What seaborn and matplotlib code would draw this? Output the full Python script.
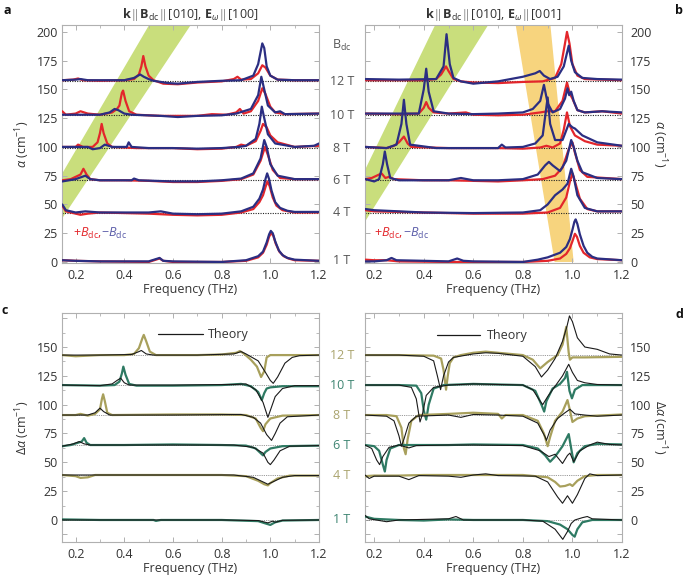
import matplotlib
matplotlib.use("Agg")
import matplotlib.pyplot as plt
import matplotlib.transforms as mtransforms
from matplotlib.ticker import MultipleLocator
import seaborn as sns

# ---------------- data ----------------
fields = ["12 T", "10 T", "8 T", "6 T", "4 T", "1 T"]
base_ab = [157, 127.5, 99, 71, 43]
base_cd = [143, 117, 91, 65, 39, 0]

band_a_green_x = [0.145, 0.145, 0.502, 0.673]
band_a_green_y = [38, 77, 206, 206]
band_b_green_x = [0.163, 0.163, 0.446, 0.660]
band_b_green_y = [35, 80, 206, 206]
band_b_yellow_x = [0.771, 0.911, 1.005, 0.928]
band_b_yellow_y = [206, 206, 0, 0]

# panel a
a12_red = [(0.145,158),(0.19,158.5),(0.21,159.5),(0.23,158),(0.30,157.5),(0.40,158),(0.44,159),(0.46,163),(0.47,170),(0.478,179),(0.487,170),(0.50,162),(0.52,158),(0.56,155),(0.62,154.5),(0.70,156),(0.80,157),(0.85,159),(0.865,161),(0.88,158.5),(0.92,159),(0.95,164),(0.967,171),(0.98,169),(1.0,162),(1.03,158.5),(1.1,158),(1.2,158)]
a12_blue = [(0.145,158),(0.20,158.5),(0.22,159),(0.25,158),(0.40,158),(0.44,160),(0.465,163),(0.48,161),(0.50,159),(0.52,157.5),(0.58,155.5),(0.62,155),(0.70,156.5),(0.80,157.5),(0.88,158),(0.93,162),(0.95,172),(0.967,190),(0.975,186),(0.985,170),(1.0,162),(1.03,158.5),(1.1,158),(1.2,158)]
a10_red = [(0.145,131),(0.16,128),(0.2,129),(0.22,131),(0.25,129),(0.30,128),(0.35,130),(0.37,133),(0.38,136),(0.39,147),(0.395,149),(0.405,140),(0.42,131),(0.45,128),(0.55,127),(0.6,127),(0.7,127),(0.76,128.5),(0.82,128),(0.86,130),(0.875,133),(0.89,129),(0.92,131),(0.95,140),(0.967,151),(0.98,146),(1.0,135),(1.02,130),(1.06,128.5),(1.2,129)]
a10_blue = [(0.145,128),(0.2,128),(0.3,128),(0.34,130),(0.36,133),(0.375,132),(0.40,129),(0.43,128),(0.55,127),(0.62,126),(0.7,127),(0.8,127.5),(0.86,129),(0.92,133),(0.95,145),(0.963,161),(0.975,150),(0.99,136),(1.02,130),(1.04,131),(1.06,128.5),(1.2,129)]
a8_red = [(0.145,100),(0.2,100),(0.21,102),(0.23,100),(0.27,100),(0.29,104),(0.30,112),(0.307,120),(0.315,112),(0.33,103),(0.35,100),(0.45,99),(0.55,99),(0.6,99),(0.7,98),(0.8,98.5),(0.86,100),(0.88,102),(0.9,101),(0.94,105),(0.96,114),(0.97,120),(0.985,117),(1.0,110),(1.03,104),(1.1,100),(1.2,101)]
a8_blue = [(0.145,100),(0.25,100),(0.27,98),(0.3,99),(0.32,102),(0.35,100),(0.41,100),(0.418,104),(0.43,100),(0.5,99),(0.6,99),(0.7,98.5),(0.8,99),(0.87,100),(0.9,101),(0.94,107),(0.955,120),(0.965,135),(0.975,125),(0.99,111),(1.02,103),(1.1,100),(1.18,101),(1.2,103)]
a6_red = [(0.145,71),(0.18,72),(0.2,74),(0.22,76),(0.232,81),(0.245,76),(0.26,72),(0.3,71),(0.4,71),(0.5,70.5),(0.6,69.5),(0.7,69.5),(0.8,70.5),(0.88,72),(0.93,76),(0.96,88),(0.978,100),(0.99,93),(1.01,80),(1.04,73),(1.1,72),(1.2,72)]
a6_blue = [(0.145,70),(0.2,72),(0.24,75),(0.26,72),(0.3,71),(0.43,71),(0.44,72.5),(0.46,71),(0.6,70),(0.7,70),(0.8,71),(0.88,72.5),(0.93,77),(0.96,90),(0.975,106),(0.985,100),(1.0,85),(1.03,75),(1.1,72),(1.2,72)]
a4_red = [(0.145,49),(0.16,44),(0.2,42),(0.22,41),(0.25,42),(0.3,43),(0.5,42),(0.6,41),(0.7,40.5),(0.8,41),(0.88,43),(0.93,46),(0.955,52),(0.97,58),(0.98,65),(0.988,70),(0.997,66),(1.01,56),(1.025,49),(1.05,45),(1.1,43),(1.2,43)]
a4_blue = [(0.145,50),(0.16,45),(0.2,43),(0.24,44),(0.3,43),(0.5,43),(0.55,44),(0.6,42),(0.7,41.5),(0.8,42),(0.88,44),(0.93,48),(0.955,55),(0.97,63),(0.98,72),(0.987,77),(0.995,72),(1.005,62),(1.02,52),(1.04,47),(1.07,44.5),(1.1,43.5),(1.2,43.5)]
a1_red = [(0.145,1.5),(0.2,1),(0.3,0.5),(0.5,0),(0.53,2),(0.545,3),(0.56,1),(0.6,0),(0.8,0),(0.9,1),(0.95,4),(0.97,8),(0.985,15),(0.995,22),(1.003,25),(1.012,23),(1.022,16),(1.037,9),(1.055,5),(1.075,3),(1.1,1.5),(1.2,1)]
a1_blue = [(0.145,1.5),(0.2,1),(0.3,0.5),(0.5,0.5),(0.53,2.5),(0.545,3.5),(0.56,1),(0.6,0.5),(0.8,0),(0.9,1.5),(0.95,5),(0.97,9),(0.985,17),(0.995,24),(1.002,27),(1.01,25),(1.02,18),(1.035,10),(1.05,6),(1.07,3.5),(1.1,2),(1.2,1)]

# panel b
b12_red = [(0.165,158),(0.3,158),(0.4,158),(0.45,159),(0.47,163),(0.49,170),(0.50,166),(0.52,159),(0.55,157),(0.6,156),(0.7,155.5),(0.8,156.5),(0.88,157),(0.93,160),(0.955,172),(0.97,190),(0.978,200),(0.988,190),(1.0,172),(1.02,162),(1.05,159),(1.2,158)]
b12_blue = [(0.165,159),(0.3,158.5),(0.45,159),(0.48,170),(0.492,198),(0.505,172),(0.52,160),(0.55,157),(0.6,155),(0.7,157),(0.8,161),(0.85,164),(0.868,166),(0.885,162),(0.91,159),(0.94,161),(0.965,170),(0.985,188),(0.995,175),(1.01,165),(1.04,160),(1.1,159),(1.2,158.5)]
b10_red = [(0.165,129),(0.3,128.5),(0.38,129),(0.40,134),(0.41,139),(0.42,134),(0.44,130),(0.5,129),(0.57,130),(0.6,128),(0.7,127.5),(0.8,128),(0.87,130),(0.9,131),(0.93,131),(0.96,140),(0.978,156),(0.99,146),(1.0,142),(1.02,132),(1.05,130),(1.12,131),(1.2,129)]
b10_blue = [(0.165,129),(0.3,129),(0.38,129),(0.40,150),(0.41,168),(0.42,148),(0.44,131),(0.5,129),(0.6,128.5),(0.7,129),(0.8,130),(0.84,133),(0.87,140),(0.885,154),(0.9,138),(0.92,130),(0.95,133),(0.97,142),(0.98,151),(0.987,145),(0.995,148),(1.005,140),(1.02,132),(1.05,130),(1.12,131),(1.2,130)]
b8_red = [(0.165,100),(0.25,99),(0.28,101),(0.30,104),(0.32,109),(0.335,103),(0.35,100),(0.5,99),(0.6,99),(0.7,99),(0.8,98.5),(0.87,99.5),(0.895,101),(0.92,99.5),(0.95,103),(0.965,115),(0.978,130),(0.99,118),(1.01,110),(1.05,105),(1.1,102),(1.2,101)]
b8_blue = [(0.165,100),(0.25,99),(0.29,102),(0.31,120),(0.32,141),(0.33,120),(0.345,102),(0.38,101),(0.45,99),(0.6,99),(0.7,99),(0.715,102),(0.73,99.5),(0.8,100),(0.85,103),(0.88,110),(0.9,143),(0.91,120),(0.93,106),(0.96,106),(0.985,120),(1.0,117),(1.01,116),(1.04,110),(1.1,104),(1.2,101)]
b6_red = [(0.165,72),(0.19,73),(0.22,76),(0.23,77),(0.245,73),(0.26,74),(0.28,72),(0.4,71),(0.5,71),(0.6,70.5),(0.7,70),(0.8,71),(0.88,72),(0.93,75),(0.96,82),(0.985,98),(1.0,104),(1.01,95),(1.03,80),(1.06,74),(1.2,72)]
b6_blue = [(0.165,72),(0.2,70),(0.22,72),(0.235,85),(0.243,96),(0.252,85),(0.265,73),(0.3,71),(0.4,71),(0.5,71),(0.55,73),(0.6,71),(0.7,71),(0.8,72),(0.86,76),(0.89,84),(0.905,87),(0.92,84),(0.95,79),(0.975,88),(0.995,106),(1.005,100),(1.02,88),(1.04,78),(1.1,73),(1.2,72)]
b4_red = [(0.165,45),(0.2,44),(0.4,43),(0.6,42),(0.8,42),(0.9,43),(0.95,47),(0.975,56),(0.99,70),(1.0,77),(1.01,70),(1.03,55),(1.06,46),(1.1,44),(1.2,44)]
b4_blue = [(0.165,46),(0.2,45),(0.4,43),(0.6,42.5),(0.8,43),(0.87,45),(0.9,50),(0.93,58),(0.96,63),(0.98,68),(0.995,81),(1.005,74),(1.02,58),(1.05,47),(1.1,44),(1.2,44)]
b1_red = [(0.165,2),(0.2,1.5),(0.25,1.5),(0.3,0.5),(0.5,0),(0.8,0),(0.9,1),(0.95,3),(0.975,7),(0.99,12),(1.0,18),(1.01,24.5),(1.018,22),(1.03,14),(1.045,8),(1.07,4),(1.1,2.5),(1.2,1.5)]
b1_blue = [(0.165,0.5),(0.2,0.5),(0.25,1.5),(0.27,3.5),(0.29,1.5),(0.4,1),(0.5,0.5),(0.535,3),(0.56,1),(0.6,0.5),(0.8,0),(0.86,2),(0.9,4),(0.95,8),(0.975,13),(0.99,20),(1.0,28),(1.008,35),(1.013,37),(1.02,33),(1.03,24),(1.045,14),(1.06,8),(1.08,4.5),(1.1,3),(1.2,1.5)]

# panel c
c12_exp = [(0.145,143),(0.2,142),(0.3,143),(0.4,143),(0.44,144),(0.46,149),(0.475,158),(0.48,160.5),(0.49,155),(0.505,146),(0.53,143),(0.6,143),(0.7,143),(0.8,143.5),(0.86,145),(0.875,146.5),(0.89,144.5),(0.92,139),(0.945,133),(0.962,124),(0.975,129),(0.985,141),(1.0,143),(1.1,143),(1.2,143)]
c12_th = [(0.145,143),(0.3,143),(0.43,143.5),(0.46,146),(0.47,147),(0.49,144),(0.52,143),(0.7,143),(0.85,144),(0.88,146),(0.9,144),(0.95,138),(0.98,128),(1.0,121),(1.012,118.5),(1.03,124),(1.06,136),(1.09,141),(1.12,142.5),(1.2,143)]
c10_exp = [(0.145,117),(0.3,116.5),(0.36,117),(0.38,120),(0.39,127),(0.396,133),(0.405,126),(0.42,118),(0.45,116.5),(0.6,116.5),(0.8,117),(0.88,118),(0.92,116),(0.95,111),(0.965,104),(0.975,110),(0.985,114),(1.0,115),(1.05,116),(1.2,116)]
c10_th = [(0.145,117),(0.3,116.5),(0.35,118),(0.37,121),(0.385,123),(0.40,119),(0.42,117),(0.6,117),(0.85,117.5),(0.9,118),(0.94,113),(0.97,102),(0.99,89),(1.0,95),(1.02,107),(1.05,114),(1.1,116.5),(1.2,116.5)]
c8_exp = [(0.145,91),(0.2,91),(0.22,92),(0.25,90.5),(0.28,92),(0.3,96),(0.308,105),(0.313,109),(0.32,103),(0.33,93),(0.35,91),(0.6,91.5),(0.8,91.5),(0.9,91),(0.94,88),(0.96,80),(0.97,77),(0.98,83),(1.0,88),(1.05,90.5),(1.2,91)]
c8_th = [(0.145,91),(0.25,91),(0.28,93),(0.3,97),(0.315,94),(0.34,91),(0.6,91),(0.88,91.5),(0.93,89),(0.96,84),(0.985,74),(1.005,69),(1.02,75),(1.04,84),(1.07,89.5),(1.2,91)]
c6_exp = [(0.145,64),(0.18,65),(0.21,67),(0.225,68),(0.235,71),(0.245,67),(0.26,65),(0.4,65),(0.6,65.5),(0.8,65),(0.9,64.5),(0.94,62),(0.96,58),(0.97,56),(0.98,59),(1.0,62),(1.05,64),(1.2,64.5)]
c6_th = [(0.145,64),(0.19,66),(0.215,68),(0.235,66),(0.26,65),(0.6,65),(0.85,65),(0.93,63),(0.97,58),(0.99,50),(1.0,48),(1.015,52),(1.04,60),(1.08,64),(1.2,64.5)]
c4_exp = [(0.145,39),(0.2,38),(0.22,36.5),(0.25,37),(0.28,39),(0.6,39),(0.8,39),(0.9,38),(0.95,34),(0.975,31),(0.99,30),(1.0,32),(1.03,36),(1.08,38.5),(1.2,38.5)]
c4_th = [(0.145,39),(0.3,39),(0.6,39),(0.85,39),(0.93,37),(0.97,33),(0.99,31),(1.01,33),(1.05,37),(1.1,38.5),(1.2,38.5)]
c1_exp = [(0.145,0.5),(0.3,0),(0.52,0),(0.53,-0.8),(0.55,0),(0.8,0),(0.95,-1),(0.98,-3),(1.0,-4.3),(1.02,-2),(1.05,-0.5),(1.2,0)]
c1_th = [(0.145,0),(0.8,0),(0.95,-0.5),(0.99,-2.5),(1.01,-1),(1.02,-2),(1.05,-0.3),(1.2,0)]

# panel d
d12_exp = [(0.163,143),(0.3,143),(0.44,142.5),(0.47,140),(0.48,130),(0.49,113),(0.497,125),(0.505,136),(0.52,141),(0.55,143),(0.6,145),(0.65,146),(0.7,145),(0.8,143),(0.84,139),(0.87,131.5),(0.9,137),(0.94,143),(0.96,152),(0.975,167.5),(0.985,145),(0.99,139),(1.0,141),(1.05,141),(1.2,141.5)]
d12_th = [(0.163,143),(0.3,143),(0.4,142),(0.44,138),(0.455,125),(0.468,113),(0.48,125),(0.5,137),(0.52,141),(0.6,144),(0.65,145),(0.7,144.5),(0.8,142),(0.85,133),(0.875,124),(0.9,130),(0.93,140),(0.96,155),(0.978,168),(0.988,177),(1.0,172),(1.02,158),(1.05,150),(1.1,148),(1.15,144),(1.2,143)]
d10_exp = [(0.163,117),(0.3,117),(0.37,116.5),(0.39,110),(0.40,95),(0.41,87),(0.42,100),(0.44,114),(0.48,117),(0.6,118),(0.8,117),(0.85,112),(0.875,100),(0.886,94),(0.895,103),(0.92,114),(0.95,118),(0.97,123),(0.978,128.5),(0.988,112),(0.998,105.5),(1.01,113),(1.04,117),(1.2,117)]
d10_th = [(0.163,117),(0.3,117),(0.35,115),(0.37,105),(0.385,85),(0.395,92),(0.41,108),(0.44,115),(0.5,117),(0.6,118),(0.8,117),(0.84,113),(0.87,103),(0.88,100),(0.9,107),(0.93,116),(0.96,125),(0.985,135),(1.0,128),(1.02,121),(1.05,119),(1.1,117.5),(1.2,117)]
d8_exp = [(0.163,91),(0.25,91),(0.29,90),(0.31,80),(0.32,62),(0.327,57),(0.335,70),(0.35,86),(0.38,91),(0.5,92),(0.6,93),(0.7,92),(0.715,88),(0.73,91),(0.8,91),(0.86,86),(0.885,75),(0.9,64),(0.91,72),(0.93,86),(0.96,94),(0.98,104),(0.99,95),(1.0,85),(1.02,88),(1.05,90),(1.2,91.5)]
d8_th = [(0.163,91),(0.25,90),(0.28,86),(0.3,73),(0.31,64),(0.32,70),(0.34,84),(0.37,90),(0.5,91),(0.55,89),(0.6,91.5),(0.7,91),(0.8,90),(0.86,84),(0.89,72),(0.895,69),(0.91,78),(0.94,88),(0.97,93),(0.99,96),(1.01,92),(1.05,91),(1.1,90),(1.2,91)]
d6_exp = [(0.163,65),(0.2,64),(0.22,60),(0.235,48),(0.243,42),(0.25,52),(0.265,62),(0.3,65),(0.4,65),(0.5,65),(0.6,65.5),(0.8,65),(0.86,62),(0.89,56),(0.91,50.5),(0.93,55),(0.96,64),(0.985,74.5),(0.995,62),(1.005,50),(1.02,58),(1.05,64),(1.1,66),(1.2,65.5)]
d6_th = [(0.163,65),(0.19,62),(0.21,52),(0.222,48),(0.235,55),(0.26,63),(0.3,65),(0.34,62.5),(0.37,64.5),(0.5,65),(0.6,65),(0.8,64.5),(0.87,60),(0.905,55),(0.93,57),(0.96,49),(0.98,56),(0.99,58),(1.005,50.5),(1.03,60),(1.07,65),(1.1,67.5),(1.15,65.5),(1.2,65)]
d4_exp = [(0.163,38),(0.2,38.5),(0.3,38.5),(0.4,39),(0.6,39),(0.8,39),(0.9,37),(0.93,33),(0.95,29),(0.97,29.5),(0.99,31),(1.0,29.5),(1.02,34),(1.05,38),(1.1,39),(1.2,39)]
d4_th = [(0.163,39),(0.18,36),(0.2,38),(0.3,38),(0.34,35),(0.38,38.5),(0.5,38),(0.55,37),(0.6,39),(0.65,40),(0.7,38.5),(0.85,38),(0.9,33),(0.94,20),(0.96,14.5),(0.98,21),(1.0,14.5),(1.02,22),(1.05,36),(1.07,40),(1.1,38.5),(1.2,39)]
d1_exp = [(0.163,3),(0.2,1),(0.3,0),(0.4,-0.5),(0.5,0.5),(0.6,0),(0.8,0),(0.9,-1),(0.95,-4),(0.98,-8),(1.0,-13),(1.009,-14.5),(1.02,-8),(1.04,-2),(1.08,0),(1.2,0)]
d1_th = [(0.163,4),(0.18,1),(0.25,-1.5),(0.3,0),(0.5,1),(0.53,3),(0.56,0),(0.8,0),(0.88,-1),(0.93,-8),(0.961,-16.8),(0.98,-10),(0.995,-3),(1.01,0),(1.04,2),(1.06,3),(1.08,1),(1.2,0)]

# ---------------- styling ----------------
sns.set_theme(style="ticks")
plt.rcParams["font.family"] = ["Open Sans", "DejaVu Sans"]
plt.rcParams["mathtext.fontset"] = "custom"
plt.rcParams["mathtext.rm"] = "Open Sans"
plt.rcParams["mathtext.it"] = "Open Sans:italic"
plt.rcParams["mathtext.bf"] = "Open Sans:bold"

RED = "#e3262b"
NAVY = "#2b2e82"
OLIVE = "#a8a05c"
TEAL = "#2e7a63"
OLIVE_T = "#aaa46e"
TEAL_T = "#3f8572"
GREEN = "#c9de7c"
YELLOW = "#f7d47e"
SPINE = "#b0b0b0"
TXT = "#333333"
FS = 9

W, H = 685, 577
fig = plt.figure(figsize=(W / 100, H / 100), dpi=100)


def px_axes(l, r, t, b):
    return fig.add_axes([l / W, 1 - b / H, (r - l) / W, (b - t) / H])


ax_a = px_axes(62, 319, 25, 263)
ax_b = px_axes(365, 622, 25, 263)
ax_c = px_axes(62, 319, 313, 542)
ax_d = px_axes(365, 622, 313, 542)


def draw(ax, pts, color, lw, z):
    xs = [p[0] for p in pts]
    ys = [p[1] for p in pts]
    sns.lineplot(x=xs, y=ys, ax=ax, color=color, lw=lw, sort=False,
                 estimator=None, legend=False, zorder=z)


def style(ax, xlo, ylo, yhi, right, major, minor):
    ax.set_xlim(xlo, 1.2)
    ax.set_ylim(ylo, yhi)
    for s in ax.spines.values():
        s.set_color(SPINE)
        s.set_linewidth(0.8)
    ax.xaxis.set_major_locator(MultipleLocator(0.2))
    ax.xaxis.set_minor_locator(MultipleLocator(0.1))
    ax.yaxis.set_major_locator(MultipleLocator(major))
    ax.yaxis.set_minor_locator(MultipleLocator(minor))
    ax.tick_params(which="both", direction="in", top=True, right=True,
                   left=True, bottom=True, color=SPINE, labelcolor=TXT,
                   labelsize=FS, pad=3)
    ax.tick_params(which="major", length=3.5, width=0.7)
    ax.tick_params(which="minor", length=2, width=0.6)
    if right:
        ax.tick_params(labelleft=False, labelright=True)
        ax.tick_params(axis="y", pad=6)
    ax.tick_params(axis="x", pad=4)
    ax.set_xticks([0.2, 0.4, 0.6, 0.8, 1.0, 1.2])
    ax.set_xticklabels(["0.2", "0.4", "0.6", "0.8", "1.0", "1.2"])
    ax.set_xlabel("Frequency (THz)", fontsize=FS, color=TXT, labelpad=1)


# bands
ax_a.fill(band_a_green_x, band_a_green_y, color=GREEN, lw=0, zorder=0)
ax_b.fill(band_b_green_x, band_b_green_y, color=GREEN, lw=0, zorder=0)
ax_b.fill(band_b_yellow_x, band_b_yellow_y, color=YELLOW, lw=0, zorder=0)

for ax in (ax_a, ax_b):
    for yb in base_ab:
        ax.axhline(yb, color="#222222", lw=0.8, ls=(0, (1, 1.2)), zorder=1)
for ax in (ax_c, ax_d):
    for yb in base_cd:
        ax.axhline(yb, color="#777777", lw=0.6, ls=(0, (1, 1.2)), zorder=1)

for r, bl in [(a12_red, a12_blue), (a10_red, a10_blue), (a8_red, a8_blue),
              (a6_red, a6_blue), (a4_red, a4_blue), (a1_red, a1_blue)]:
    draw(ax_a, r, RED, 1.6, 3)
    draw(ax_a, bl, NAVY, 1.6, 4)
for r, bl in [(b12_red, b12_blue), (b10_red, b10_blue), (b8_red, b8_blue),
              (b6_red, b6_blue), (b4_red, b4_blue), (b1_red, b1_blue)]:
    draw(ax_b, r, RED, 1.6, 3)
    draw(ax_b, bl, NAVY, 1.6, 4)

exp_cols = [OLIVE, TEAL, OLIVE, TEAL, OLIVE, TEAL]
for (e, t), col in zip([(c12_exp, c12_th), (c10_exp, c10_th), (c8_exp, c8_th),
                        (c6_exp, c6_th), (c4_exp, c4_th), (c1_exp, c1_th)], exp_cols):
    draw(ax_c, e, col, 1.6, 3)
    draw(ax_c, t, "#1a1a1a", 0.8, 4)
for (e, t), col in zip([(d12_exp, d12_th), (d10_exp, d10_th), (d8_exp, d8_th),
                        (d6_exp, d6_th), (d4_exp, d4_th), (d1_exp, d1_th)], exp_cols):
    draw(ax_d, e, col, 1.6, 3)
    draw(ax_d, t, "#1a1a1a", 0.8, 4)

style(ax_a, 0.144, -0.9, 206, False, 25, 25)
style(ax_b, 0.163, -0.9, 206, True, 25, 25)
style(ax_c, 0.144, -19.1, 179.5, False, 25, 12.5)
style(ax_d, 0.163, -19.1, 179.5, True, 25, 12.5)
for ax in (ax_c, ax_d):
    ax.set_yticks([-12.5, 0, 25, 50, 75, 100, 125, 150, 175])
    ax.set_yticklabels(["", "0", "25", "50", "75", "100", "125", "150", ""])

# titles
ax_a.set_title(r"$\mathbf{k}\,\|\,\mathbf{B}_{\mathrm{dc}}\,\|\,$[010], $\mathbf{E}_{\omega}\,\|\,$[100]",
               fontsize=FS, color=TXT, pad=5)
ax_b.set_title(r"$\mathbf{k}\,\|\,\mathbf{B}_{\mathrm{dc}}\,\|\,$[010], $\mathbf{E}_{\omega}\,\|\,$[001]",
               fontsize=FS, color=TXT, pad=5)

# y labels
ax_a.set_ylabel(r"$\alpha$ (cm$^{-1}$)", fontsize=FS, color=TXT, labelpad=3)
ax_b.yaxis.set_label_position("right")
ax_b.set_ylabel(r"$\alpha$ (cm$^{-1}$)", fontsize=FS, color=TXT, rotation=270, labelpad=12)
ax_c.set_ylabel(r"$\Delta\alpha$ (cm$^{-1}$)", fontsize=FS, color=TXT, labelpad=3)
ax_d.yaxis.set_label_position("right")
ax_d.set_ylabel(r"$\Delta\alpha$ (cm$^{-1}$)", fontsize=FS, color=TXT, rotation=270, labelpad=12)

# +B / -B annotations
for ax, x0 in ((ax_a, 0.19), (ax_b, 0.20)):
    ax.text(x0, 24.5, r"$+B_{\mathrm{dc}}$,", color=RED, fontsize=FS, va="center", ha="left")
    ax.text(x0 + 0.115, 24.5, r"$-B_{\mathrm{dc}}$", color="#5a5ca8", fontsize=FS, va="center", ha="left")

# Theory legends
ax_c.plot([0.539, 0.724], [161, 161], color="#1a1a1a", lw=0.9)
ax_c.text(0.745, 161, "Theory", fontsize=FS, color=TXT, va="center")
ax_d.plot([0.452, 0.627], [160, 160], color="#1a1a1a", lw=0.9)
ax_d.text(0.654, 160, "Theory", fontsize=FS, color=TXT, va="center")

# center field labels
xc = 342 / W
tr_a = mtransforms.blended_transform_factory(fig.transFigure, ax_a.transData)
tr_c = mtransforms.blended_transform_factory(fig.transFigure, ax_c.transData)
fig.text(xc, 188, r"B$_{\mathrm{dc}}$", transform=tr_a, ha="center", va="center", fontsize=FS, color="#555555")
for lab, yb in zip(fields, base_ab + [1]):
    fig.text(xc, yb, lab, transform=tr_a, ha="center", va="center", fontsize=FS, color="#555555")
for lab, yb, col in zip(fields, base_cd, [OLIVE_T, TEAL_T] * 3):
    fig.text(xc, yb, lab, transform=tr_c, ha="center", va="center", fontsize=FS, color=col)

# panel letters
for lab, x, y in (("a", 7, 10), ("b", 679, 11), ("c", 5, 311), ("d", 679, 314)):
    fig.text(x / W, 1 - y / H, lab, fontsize=9, fontweight="bold", ha="center", va="center", color="#111111")

fig.savefig("out.png", dpi=100)
